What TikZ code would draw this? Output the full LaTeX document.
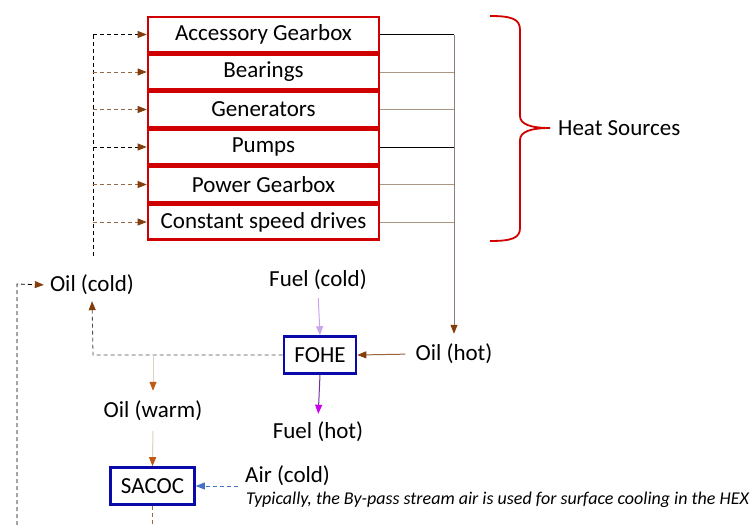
\documentclass[tikz,border=0pt]{standalone}
\usepackage{fontspec}
\setmainfont{Carlito}
\usetikzlibrary{arrows.meta,calc}
\definecolor{boxred}{RGB}{208,0,0}
\definecolor{boxblue}{RGB}{10,10,170}
\definecolor{tipbrown}{RGB}{132,60,12}
\definecolor{warmbrown}{RGB}{190,90,20}
\definecolor{tanline}{RGB}{170,150,132}
\definecolor{greyline}{RGB}{140,125,120}
\definecolor{beige}{RGB}{222,208,195}
\definecolor{dashbrown}{RGB}{150,105,75}
\definecolor{lpurple}{RGB}{200,165,240}
\definecolor{dpurple}{RGB}{112,48,160}
\definecolor{magen}{RGB}{204,0,240}
\definecolor{airblue}{RGB}{68,114,196}
\tikzset{
  src/.style={draw=boxred,line width=2.6pt,minimum width=231pt,minimum height=35pt,inner sep=0pt,font=\fontsize{23}{26}\selectfont},
  hex/.style={draw=boxblue,line width=2.6pt,minimum width=72pt,minimum height=37pt,inner sep=0pt,font=\fontsize{23}{26}\selectfont},
  lbl/.style={inner sep=2pt,font=\fontsize{23}{26}\selectfont},
  dsh/.style={dashed,dash pattern=on 4pt off 3pt,line width=0.8pt}
}
\begin{document}
\begin{tikzpicture}[x=1pt,y=-1pt]
\useasboundingbox (0,0) rectangle (753,525);
% heat sources
\node[src] (b1) at (263.5,34.5) {Accessory Gearbox};
\node[src] (b2) at (263.5,72) {Bearings};
\node[src] (b3) at (263.5,109.5) {Generators};
\node[src] (b4) at (263.5,147) {Pumps};
\node[src] (b5) at (263.5,184.5) {Power Gearbox};
\node[src] (b6) at (263.5,222) {Constant speed drives};
% labels
\node[lbl,anchor=west] (heat) at (556,128) {Heat Sources};
\node[lbl] (ocold) at (92,285) {Oil (cold)};
\node[lbl] (fcold) at (318,280) {Fuel (cold)};
\node[lbl] (ohot) at (454,354) {Oil (hot)};
\node[hex] (fohe) at (320,355) {FOHE};
\node[lbl] (fhot) at (318,432) {Fuel (hot)};
\node[lbl] (owarm) at (153,411) {Oil (warm)};
\node[hex,minimum width=84pt] (sacoc) at (152.5,486) {SACOC};
\node[lbl,anchor=west] (air) at (243,476) {Air (cold)};
\node[inner sep=0pt,anchor=west,font=\fontsize{18}{21}\selectfont\itshape] (note) at (246,500) {Typically, the By-pass stream air is used for surface cooling in the HEX};
% coordinates
\coordinate (vx) at (454,0);
\coordinate (lx) at (93,0);
\coordinate (ltop) at (93,258);
\coordinate (farx) at (17,525);
\coordinate (farturn) at (17,284);
\coordinate (sbot) at (152.5,525);
\coordinate (airstart) at (238,486);
% brace
\draw[boxred,line width=1.8pt] (490,16) .. controls (512,16) and (520,19) .. (520,30) -- (520,116)
  .. controls (520,124) and (530,128) .. (550,128)
  .. controls (530,128) and (520,132) .. (520,140) -- (520,228)
  .. controls (520,238) and (512,241) .. (490,241);
% right collector lines
\draw[black,line width=0.8pt] (b1.east) -- (b1.east -| vx);
\draw[tanline,line width=1pt] (b2.east) -- (b2.east -| vx);
\draw[tanline,line width=1pt] (b3.east) -- (b3.east -| vx);
\draw[black,line width=0.8pt] (b4.east) -- (b4.east -| vx);
\draw[tanline,line width=1pt] (b5.east) -- (b5.east -| vx);
\draw[tanline,line width=1pt] (b6.east) -- (b6.east -| vx);
\draw[greyline,line width=1pt,-{Triangle[length=9pt,width=7pt,color=tipbrown]},shorten >=8pt] (b1.east -| vx) -- (ohot.north);
% left supply lines
\draw[dsh,black] (b1.west -| lx) -- (ltop);
\draw[dsh,black,-{Triangle[length=9pt,width=7pt,color=tipbrown]}] (b1.west -| lx) -- (b1.west);
\draw[dsh,dashbrown,-{Triangle[length=9pt,width=7pt,color=tipbrown]}] (b2.west -| lx) -- (b2.west);
\draw[dsh,dashbrown,-{Triangle[length=9pt,width=7pt,color=tipbrown]}] (b3.west -| lx) -- (b3.west);
\draw[dsh,black,-{Triangle[length=9pt,width=7pt,color=tipbrown]}] (b4.west -| lx) -- (b4.west);
\draw[dsh,dashbrown,-{Triangle[length=9pt,width=7pt,color=tipbrown]}] (b5.west -| lx) -- (b5.west);
\draw[dsh,dashbrown,-{Triangle[length=9pt,width=7pt,color=tipbrown]}] (b6.west -| lx) -- (b6.west);
% oil return loop
\draw[dsh,black!70,-{Triangle[length=9pt,width=7pt,color=tipbrown]},shorten >=4pt] (fohe.west) -- (fohe.west -| lx) -- (ocold.south);
\draw[dsh,black,-{Triangle[length=9pt,width=7pt,color=tipbrown]},shorten >=4pt] (farx) -- (farturn) -- (ocold.west);
% oil warm branch
\draw[beige,line width=1pt,-{Triangle[length=9pt,width=7pt,color=warmbrown]},shorten >=8pt] (fohe.west -| owarm) -- (owarm.north);
\draw[beige,line width=1pt,-{Triangle[length=9pt,width=7pt,color=warmbrown]},shorten <=8pt] (owarm.south) -- (sacoc.north);
\draw[dsh,dashbrown] (sacoc.south) -- (sbot);
% fuel
\draw[lpurple,line width=1pt,-{Triangle[length=9pt,width=7pt]},shorten <=6pt] (fcold.south) -- (fohe.north);
\draw[dpurple,line width=1pt,-{Triangle[length=9pt,width=7pt,color=magen]},shorten >=6pt] (fohe.south) -- (fhot.north);
% oil hot into FOHE
\draw[tipbrown!80,line width=1pt,-{Triangle[length=9pt,width=7pt,color=tipbrown]},shorten <=8pt] (ohot.west) -- (fohe.east);
% air
\draw[dsh,airblue,-{Triangle[length=9pt,width=7pt]}] (airstart) -- (sacoc.east);
\end{tikzpicture}
\end{document}
